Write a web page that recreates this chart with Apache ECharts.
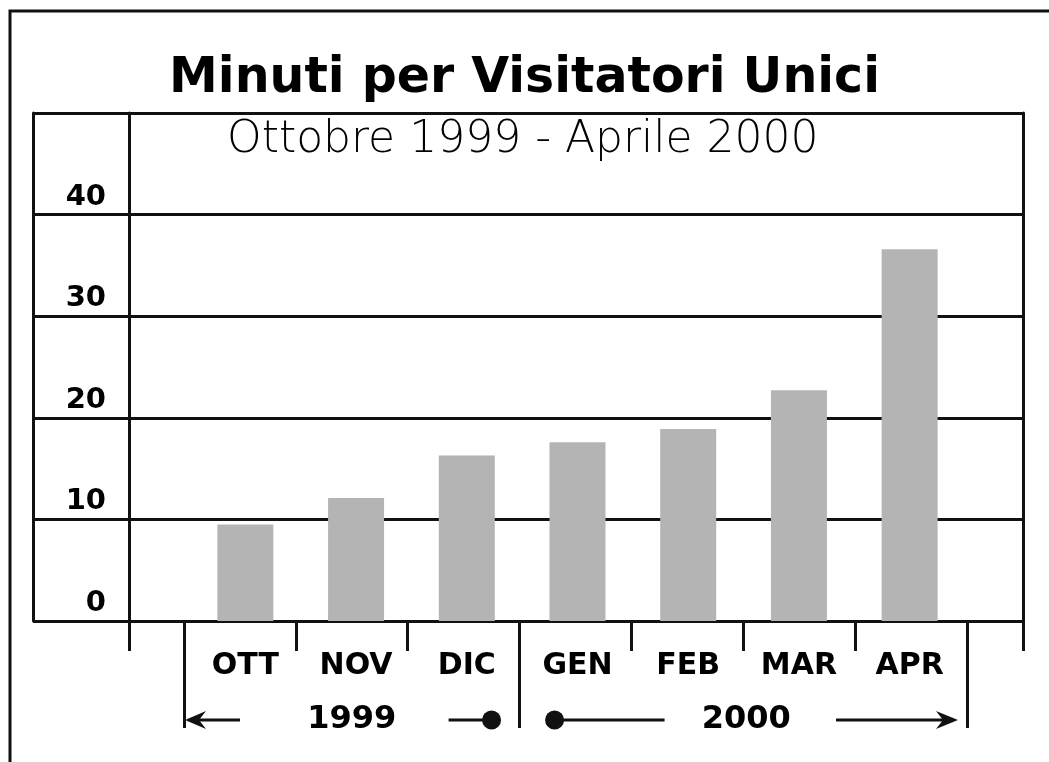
<!DOCTYPE html>
<html>
<head>
<meta charset="utf-8">
<title>Minuti per Visitatori Unici</title>
<script src="https://cdn.jsdelivr.net/npm/echarts@6/dist/echarts.min.js"></script>
<style>
	html, body { margin: 0; padding: 0; background: #fff; }
	#chart { width: 1049px; height: 762px; }
</style>
</head>
<body>
<div id="chart"></div>
<script>
	// dati
	var mesi = ['OTT', 'NOV', 'DIC', 'GEN', 'FEB', 'MAR', 'APR'];
	var minuti = [9.5, 12.1, 16.3, 17.6, 18.9, 22.7, 36.6];
	var yLabels = [0, 10, 20, 30, 40];
	var anni = ['1999', '2000'];
	var inizioAnno = [0, 3]; // primo mese di ogni anno

	var nero = '#111';
	var linea = { color: nero, width: 3 };
	var font = 'DejaVu Sans';

	var Chart = echarts.init(document.getElementById('chart'));

	var option = {
		animation: false,
		backgroundColor: '#fff',
		title: [{
			text: 'Minuti per Visitatori Unici',
			left: 'center',
			top: 55,
			padding: [0, 0, 0, 8],
			textStyle: { fontFamily: font, fontWeight: 'bold', fontSize: 49, color: '#000' }
		}, {
			text: 'Ottobre 1999 - Aprile 2000',
			left: 227,
			top: 119,
			padding: 0,
			textStyle: { fontFamily: font, fontWeight: 200, fontSize: 44, color: '#000' }
		}],
		grid: [
			// cornice
			{ left: 33, right: 26, top: 113, bottom: 141, outerBoundsMode: 'none' },
			// area a destra della colonna delle etichette
			{ left: 129, right: 26, top: 113, bottom: 141, outerBoundsMode: 'none' },
			// barre ed etichette dei mesi
			{ left: 190, right: 84, top: 113, bottom: 141, outerBoundsMode: 'none' },
			// tacche dei mesi
			{ left: 184, right: 82, top: 113, bottom: 141, outerBoundsMode: 'none' }
		],
		xAxis: [{
			gridIndex: 0,
			type: 'value',
			min: 0,
			max: 1,
			show: false
		}, {
			gridIndex: 1,
			type: 'value',
			min: 0,
			max: 1,
			interval: 1,
			axisLine: { show: true, onZero: false, lineStyle: linea },
			axisTick: { show: true, length: 30, lineStyle: linea },
			axisLabel: { show: false },
			splitLine: { show: false }
		}, {
			gridIndex: 2,
			type: 'category',
			data: mesi,
			axisLine: { show: false },
			axisTick: { show: false },
			axisLabel: {
				margin: 30,
				interval: 0,
				color: '#000',
				fontFamily: font,
				fontWeight: 'bold',
				fontSize: 30
			},
			splitLine: { show: false }
		}, {
			gridIndex: 3,
			type: 'category',
			data: mesi,
			axisLine: { show: false },
			axisTick: { show: true, length: 30, lineStyle: linea },
			axisLabel: { show: false },
			splitLine: { show: false }
		}, {
			gridIndex: 3,
			type: 'category',
			position: 'bottom',
			data: mesi,
			axisLine: { show: false },
			axisTick: {
				show: true,
				length: 107,
				lineStyle: linea,
				interval: function(i) {
					return inizioAnno.indexOf(i) >= 0
				}
			},
			axisLabel: { show: false },
			splitLine: { show: false }
		}],
		yAxis: [{
			gridIndex: 0,
			type: 'value',
			min: 0,
			max: 50,
			interval: 10,
			axisLine: { show: true, onZero: false, lineStyle: linea },
			axisTick: { show: false },
			splitLine: { show: true, lineStyle: linea },
			axisLabel: {
				inside: true,
				align: 'right',
				verticalAlign: 'bottom',
				margin: 73,
				padding: [0, 0, 3, 0],
				color: '#000',
				fontFamily: font,
				fontWeight: 'bold',
				fontSize: 29,
				formatter: function(v) {
					return yLabels.indexOf(v) >= 0 ? String(v) : ''
				}
			}
		}, {
			gridIndex: 0,
			type: 'value',
			position: 'right',
			min: 0,
			max: 50,
			axisLine: { show: true, onZero: false, lineStyle: linea },
			axisTick: { show: false },
			axisLabel: { show: false },
			splitLine: { show: false }
		}, {
			gridIndex: 1,
			type: 'value',
			min: 0,
			max: 50,
			axisLine: { show: true, onZero: false, lineStyle: linea },
			axisTick: { show: false },
			axisLabel: { show: false },
			splitLine: { show: false }
		}, {
			gridIndex: 2,
			type: 'value',
			min: 0,
			max: 50,
			show: false,
			splitLine: { show: false }
		}, {
			gridIndex: 3,
			type: 'value',
			min: 0,
			max: 50,
			show: false,
			splitLine: { show: false }
		}],
		series: [{
			name: 'Minuti',
			type: 'bar',
			xAxisIndex: 2,
			yAxisIndex: 3,
			barWidth: 56,
			data: minuti,
			itemStyle: { color: '#b4b4b4' }
		}]
	};
	Chart.setOption(option);

	/* frecce e anni sotto l'asse, agganciati alle tacche dei mesi */
	var c0 = Chart.convertToPixel({ xAxisIndex: 3 }, mesi[0]);
	var bw = Chart.convertToPixel({ xAxisIndex: 3 }, mesi[1]) - c0;
	function bordo(i) {
		return c0 + (i - 0.5) * bw
	}
	var y = 720;
	var e0 = bordo(inizioAnno[0]),
		e1 = bordo(inizioAnno[1]),
		e2 = bordo(mesi.length);
	var tratto = { stroke: nero, lineWidth: 3, fill: null };
	var pieno = { fill: nero };

	Chart.setOption({
		graphic: [
			{ type: 'polyline', shape: { points: [[10, 762], [10, 11], [1049, 11]] }, style: tratto },
			// 1999
			{ type: 'polyline', shape: { points: [[e0 + 6, y], [e0 + 56, y]] }, style: tratto },
			{ type: 'polygon', shape: { points: [[e0 + 1, y], [e0 + 22, y - 9], [e0 + 15, y], [e0 + 22, y + 9]] }, style: pieno },
			{ type: 'polyline', shape: { points: [[e1 - 71, y], [e1 - 28, y]] }, style: tratto },
			{ type: 'circle', shape: { cx: e1 - 28, cy: y, r: 9.5 }, style: pieno },
			// 2000
			{ type: 'circle', shape: { cx: e1 + 35, cy: y, r: 9.5 }, style: pieno },
			{ type: 'polyline', shape: { points: [[e1 + 35, y], [e1 + 145, y]] }, style: tratto },
			{ type: 'polyline', shape: { points: [[e2 - 131, y], [e2 - 18, y]] }, style: tratto },
			{ type: 'polygon', shape: { points: [[e2 - 9, y], [e2 - 31, y - 9], [e2 - 24, y], [e2 - 31, y + 9]] }, style: pieno },
			{
				type: 'text', x: (e0 + e1) / 2, y: y,
				style: { text: anni[0], align: 'center', verticalAlign: 'middle', fill: '#000', font: 'bold 32px "DejaVu Sans"' }
			},
			{
				type: 'text', x: (e1 + e2) / 2 + 3, y: y,
				style: { text: anni[1], align: 'center', verticalAlign: 'middle', fill: '#000', font: 'bold 32px "DejaVu Sans"' }
			}
		]
	});
</script>
</body>
</html>
